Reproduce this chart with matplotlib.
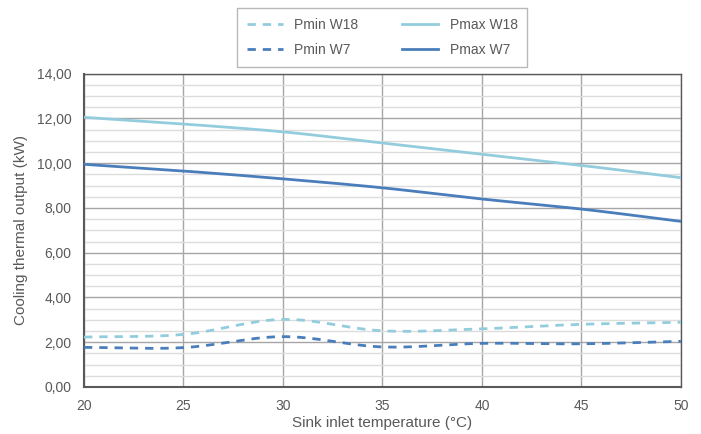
import matplotlib.pyplot as plt
from matplotlib.ticker import MultipleLocator, FuncFormatter
import numpy as np

plt.rcParams['font.family'] = ['Liberation Sans Narrow', 'Liberation Sans', 'DejaVu Sans']

temps = [20, 25, 30, 35, 40, 45, 50]
pmin_w18 = [2.23, 2.35, 3.02, 2.51, 2.60, 2.80, 2.89]
pmax_w18 = [12.05, 11.75, 11.40, 10.90, 10.40, 9.90, 9.35]
pmin_w7 = [1.77, 1.76, 2.25, 1.79, 1.95, 1.93, 2.04]
pmax_w7 = [9.95, 9.65, 9.30, 8.90, 8.40, 7.95, 7.40]

light = '#93cddd'
dark = '#4a7ebb'
txt = '#595959'


def smooth(xs, ys, n=30):
    # excel style smoothed line (catmull-rom through the points)
    x = np.array(xs, float)
    y = np.array(ys, float)
    px = np.concatenate([[2 * x[0] - x[1]], x, [2 * x[-1] - x[-2]]])
    py = np.concatenate([[2 * y[0] - y[1]], y, [2 * y[-1] - y[-2]]])
    ox, oy = [], []
    t = np.linspace(0, 1, n)
    for i in range(1, len(px) - 2):
        for arr, out in ((px, ox), (py, oy)):
            p0, p1, p2, p3 = arr[i - 1], arr[i], arr[i + 1], arr[i + 2]
            c1 = p1 + (p2 - p0) / 6
            c2 = p2 - (p3 - p1) / 6
            out.extend((1 - t) ** 3 * p1 + 3 * (1 - t) ** 2 * t * c1
                       + 3 * (1 - t) * t ** 2 * c2 + t ** 3 * p2)
    return ox, oy


fig = plt.figure(figsize=(7.01, 4.34), dpi=100)
ax = fig.add_axes([0.1198, 0.1083, 0.8516, 0.722])

series = [
    (pmin_w18, 'Pmin W18', light, (0, (3, 2.5))),
    (pmin_w7, 'Pmin W7', dark, (0, (3, 2.5))),
    (pmax_w18, 'Pmax W18', light, '-'),
    (pmax_w7, 'Pmax W7', dark, '-'),
]
handles = []
for vals, name, col, ls in series:
    sx, sy = smooth(temps, vals)
    h, = ax.plot(sx, sy, color=col, lw=2, ls=ls, label=name, zorder=3)
    handles.append(h)

ax.set_xlim(20, 50)
ax.set_ylim(0, 14)
ax.xaxis.set_major_locator(MultipleLocator(5))
ax.yaxis.set_major_locator(MultipleLocator(2))
ax.yaxis.set_minor_locator(MultipleLocator(0.5))
ax.yaxis.set_major_formatter(FuncFormatter(lambda v, p: f'{v:.2f}'.replace('.', ',')))

ax.grid(axis='y', which='minor', color='#dcdcdc', lw=1)
ax.grid(axis='y', which='major', color='#a6a6a6', lw=1)
ax.grid(axis='x', which='major', color='#a6a6a6', lw=1)
ax.set_axisbelow(True)

ax.tick_params(which='both', length=0, colors=txt, labelsize=10, pad=9)
for s in ['top', 'right']:
    ax.spines[s].set_color('#595959')
    ax.spines[s].set_linewidth(1)
for s in ['left', 'bottom']:
    ax.spines[s].set_color('#595959')
    ax.spines[s].set_linewidth(1.5)

ax.set_xlabel('Sink inlet temperature (°C)', color=txt, fontsize=11, labelpad=2)
ax.set_ylabel('Cooling thermal output (kW)', color=txt, fontsize=11, labelpad=6)

leg = fig.legend(handles=handles, ncol=2, loc='upper center',
                 bbox_to_anchor=(0.545, 0.982), frameon=True, fancybox=False,
                 fontsize=10, handlelength=2.6, columnspacing=3.2,
                 borderpad=0.7, labelspacing=0.85, borderaxespad=0)
leg.get_frame().set_edgecolor('#a6a6a6')
leg.get_frame().set_linewidth(1)
for t in leg.get_texts():
    t.set_color(txt)

fig.savefig('out.png', dpi=100)
